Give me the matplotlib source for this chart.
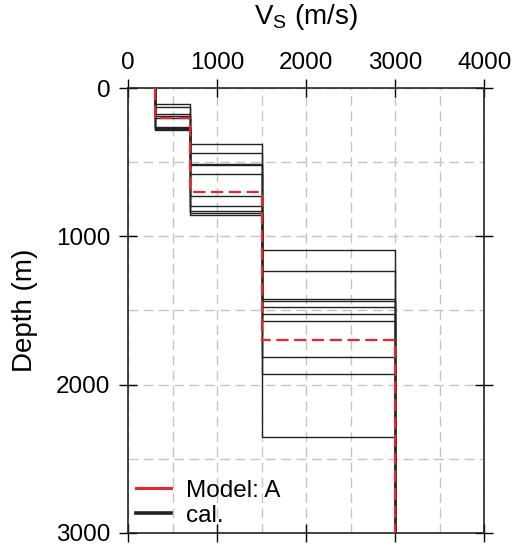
import numpy as np
import matplotlib
matplotlib.use("Agg")
import matplotlib.pyplot as plt

plt.rcParams['font.family'] = ['Liberation Sans', 'DejaVu Sans']
plt.rcParams['mathtext.fontset'] = 'custom'
plt.rcParams['mathtext.rm'] = 'Liberation Sans'

# Reference model A: layer-top depths (m) and shear-wave velocities (m/s)
model_depths = [0, 200, 700, 1700]
model_vs = [300, 700, 1500, 3000]

# Calibrated profiles: same layer velocities, individual interface depths (m)
cal_vs = [300, 700, 1500, 3000]
cal_d1 = [108, 130, 176, 190, 200, 262, 268, 272, 276, 279]
cal_d2 = [374, 435, 509, 520, 576, 730, 795, 831, 843, 853]
cal_d3 = [1095, 1234, 1425, 1435, 1478, 1527, 1574, 1816, 1928, 2351]

x_ticks = [0, 1000, 2000, 3000, 4000]
y_ticks = [0, 1000, 2000, 3000]
max_depth = 3000


def step_profile(tops, vs, bottom):
    xs, ys = [], []
    edges = list(tops) + [bottom]
    for i, v in enumerate(vs):
        xs += [v, v]
        ys += [edges[i], edges[i + 1]]
    return xs, ys


fig = plt.figure(figsize=(5.14, 5.51), dpi=100)
ax = fig.add_axes([0.249, 0.033, 0.693, 0.807])

for k in range(len(cal_d1)):
    tops = [0, cal_d1[k], cal_d2[k], cal_d3[k]]
    xs, ys = step_profile(tops, cal_vs, max_depth)
    ax.plot(xs, ys, color='#222222', lw=1.0, zorder=3)

mx, my = step_profile(model_depths, model_vs, max_depth)
ax.plot(mx, my, color='#e8262b', lw=1.6, linestyle=(0, (5.5, 2.5)), zorder=4)

# legend handles
ax.plot([], [], color='#e8262b', lw=2.2, label='Model: A')
ax.plot([], [], color='#222222', lw=2.6, label='cal.')
leg = ax.legend(loc='lower left', frameon=False, fontsize=17.5,
                handlelength=1.45, handletextpad=0.6, labelspacing=0.12,
                borderaxespad=0.0, bbox_to_anchor=(-0.005, -0.008))

ax.set_xlim(0, 4000)
ax.set_ylim(max_depth, 0)

ax.set_xticks(x_ticks)
ax.set_yticks(y_ticks)
ax.set_xticks(np.arange(500, 4000, 1000), minor=True)
ax.set_yticks(np.arange(500, 3000, 1000), minor=True)
ax.tick_params(which='major', direction='inout', length=13, width=1.0,
               top=True, bottom=True, left=True, right=True,
               labeltop=True, labelbottom=False, labelsize=17.5)
ax.tick_params(axis='y', which='major', pad=6)
ax.tick_params(axis='x', which='major', pad=3.5)
ax.tick_params(which='minor', length=0)
ax.grid(which='both', color='#c4c4c4', lw=1.0, linestyle=(0, (7, 4)), zorder=0)

ax.xaxis.set_label_position('top')
ax.set_xlabel(r'V$_\mathregular{S}$ (m/s)', fontsize=20, labelpad=20)
ax.set_ylabel('Depth (m)', fontsize=20, labelpad=13)

for s in ax.spines.values():
    s.set_linewidth(1.2)
    s.set_color('#222222')

fig.savefig('out.png', dpi=100)
